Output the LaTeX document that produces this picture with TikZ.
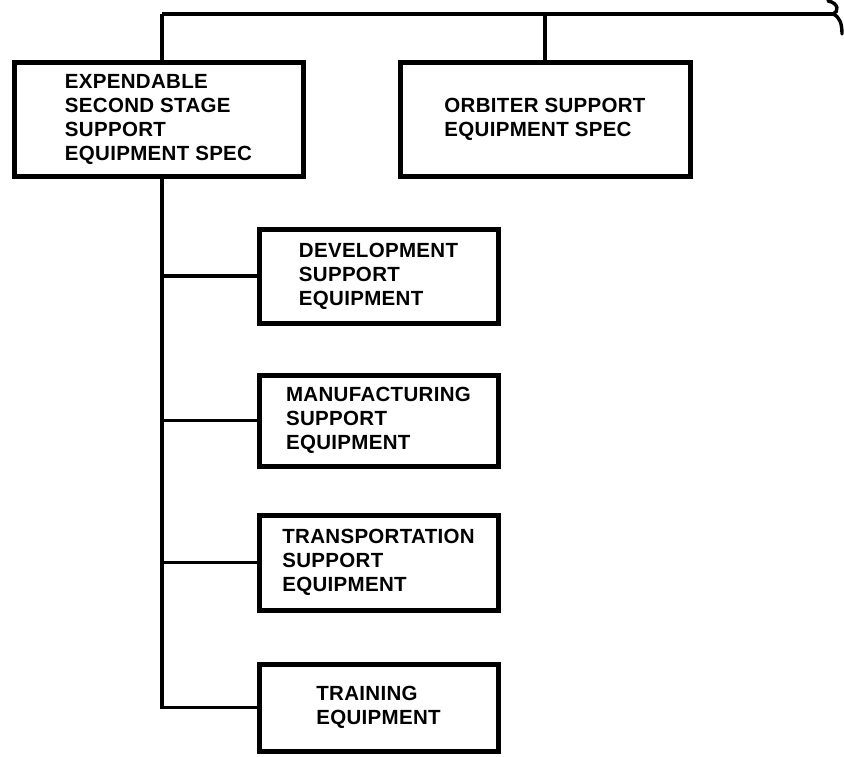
\documentclass[tikz,border=0pt]{standalone}
\usepackage{fontspec}
\setmainfont{Liberation Sans}[LetterSpace=1.5]
\begin{document}
\begin{tikzpicture}[x=1pt,y=-1pt,
  box/.style={draw,line width=5pt,rectangle,inner sep=0pt,align=left,
    font=\bfseries\fontsize{20.5}{24}\selectfont},
  link/.style={line width=3.4pt}]
\useasboundingbox (0,0) rectangle (844,756);
\node[box,minimum width=289pt,minimum height=114pt] (b1) at (158.5,119)
  {EXPENDABLE\\SECOND STAGE\\SUPPORT\\EQUIPMENT SPEC};
\node[box,minimum width=290pt,minimum height=114pt] (b2) at (545,119)
  {ORBITER SUPPORT\\EQUIPMENT SPEC};
\node[box,minimum width=239pt,minimum height=94pt] (dev) at (378.5,276)
  {DEVELOPMENT\\SUPPORT\\EQUIPMENT};
\node[box,minimum width=239pt,minimum height=91pt] (manu) at (378.5,420.5)
  {MANUFACTURING\\SUPPORT\\EQUIPMENT};
\node[box,minimum width=239pt,minimum height=95pt] (trans) at (378.5,562.5)
  {TRANSPORTATION\\SUPPORT\\EQUIPMENT};
\node[box,minimum width=239pt,minimum height=87pt] (train) at (378.5,707.5)
  {TRAINING\\EQUIPMENT};
\coordinate (tl) at (162,14);
\coordinate (tr) at (833,14);
\draw[link] (tl) -- (tr);
\draw[link] (tl) -- (tl |- b1.north);
\draw[link] (b2.north |- tl) -- (b2.north);
\draw[link] (tl |- b1.south) -- (tl |- train.west) -- (train.west);
\draw[link] (tl |- dev.west) -- (dev.west);
\draw[link] (tl |- manu.west) -- (manu.west);
\draw[link] (tl |- trans.west) -- (trans.west);
\draw[link,line cap=round] (828,1) .. controls (839,3) and (839,12) .. (tr)
  .. controls (840,17) and (842,24) .. (842,34);
\end{tikzpicture}
\end{document}
